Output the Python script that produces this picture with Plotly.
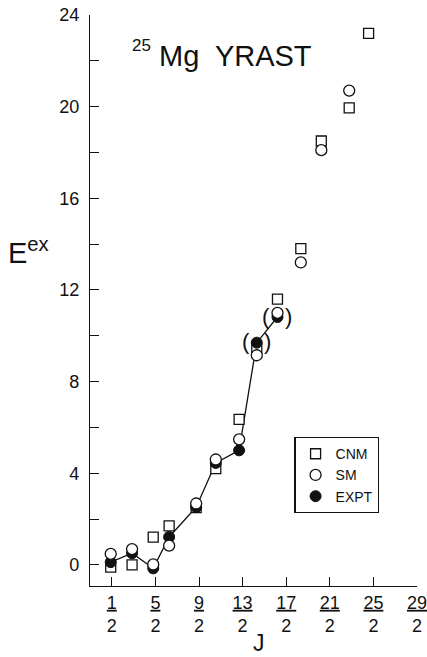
import plotly.graph_objects as go

# ---- data ----
J = [0.45, 1.43, 2.40, 3.13, 4.37, 5.27, 6.34, 7.15, 8.10, 9.17, 10.11, 11.39, 12.28]
CNM = [-0.10, 0.00, 1.21, 1.70, 2.50, 4.20, 6.35, 9.45, 11.60, 13.80, 18.50, 19.95, 23.20]
SM = [0.48, 0.69, 0.02, 0.84, 2.68, 4.60, 5.48, 9.15, 11.00, 13.20, 18.10, 20.70, None]
EXPT = [0.12, 0.51, -0.15, 1.22, 2.52, 4.45, 5.00, 9.70, 10.82]
EXPT_TENTATIVE = [False, False, False, False, False, False, False, True, True]

X_TICK_NUM = ["1", "5", "9", "13", "17", "21", "25", "29"]
X_TICK_VALS = [int(n) / 2 for n in X_TICK_NUM]
Y_TICK_VALS = list(range(0, 25, 2))
Y_TICK_TEXT = [str(v) if v % 4 == 0 else "" for v in Y_TICK_VALS]

FONT = "Liberation Sans, Arial, Helvetica, sans-serif"
INK = "#111111"

fig = go.Figure()

# connecting line through experimental points
fig.add_trace(go.Scatter(
    x=J[:len(EXPT)], y=EXPT, mode="lines",
    line=dict(color=INK, width=1.3), showlegend=False, hoverinfo="skip"))

fig.add_trace(go.Scatter(
    x=J, y=CNM, mode="markers", name="CNM", legendgroup="cnm", legendrank=1,
    marker=dict(symbol="square", size=10, color="white",
                line=dict(color=INK, width=1.3))))

fig.add_trace(go.Scatter(
    x=J[:len(EXPT)], y=EXPT, mode="markers", name="EXPT", legendgroup="expt",
    legendrank=3,
    marker=dict(symbol="circle", size=11, color=INK,
                line=dict(color=INK, width=1))))

fig.add_trace(go.Scatter(
    x=J, y=SM, mode="markers", name="SM", legendgroup="sm", legendrank=2,
    marker=dict(symbol="circle", size=11, color="white",
                line=dict(color=INK, width=1.3))))

# parentheses around tentative experimental levels
for xj, ye, tent in zip(J, EXPT, EXPT_TENTATIVE):
    if tent:
        for ch, sh in (("(", -11), (")", 11)):
            fig.add_annotation(x=xj, y=ye, xref="x", yref="y", text=ch,
                               showarrow=False, xshift=sh, yshift=1,
                               font=dict(family=FONT, size=22, color=INK))

# title
fig.add_annotation(x=0.122, y=0.946, xref="paper", yref="paper", text="25",
                   showarrow=False, xanchor="left", yanchor="middle",
                   font=dict(family=FONT, size=17, color=INK))
fig.add_annotation(x=0.205, y=0.929, xref="paper", yref="paper",
                   text="Mg  YRAST", showarrow=False, xanchor="left",
                   yanchor="middle", font=dict(family=FONT, size=29, color=INK))

# axis titles
fig.add_annotation(x=-0.257, y=0.586, xref="paper", yref="paper",
                   text="E<sup>ex</sup>", showarrow=False, xanchor="left",
                   yanchor="middle", font=dict(family=FONT, size=29, color=INK))
fig.add_annotation(x=0.517, y=-0.1, xref="paper", yref="paper", text="J",
                   showarrow=False, xanchor="center", yanchor="middle",
                   font=dict(family=FONT, size=23, color=INK))

fig.update_xaxes(
    range=[-0.5, 14.5], showline=True, linecolor=INK, linewidth=1.4,
    showgrid=False, zeroline=False, ticks="inside", ticklen=9, tickwidth=1.3,
    tickcolor=INK, tickvals=X_TICK_VALS,
    ticktext=[f"<u>{n}</u><br>2" for n in X_TICK_NUM],
    tickfont=dict(family=FONT, size=18, color=INK), ticklabelstandoff=0,
    ticklabeloverflow="allow", automargin=False)

fig.update_yaxes(
    range=[-0.92, 24], showline=True, linecolor=INK, linewidth=1.4,
    showgrid=False, zeroline=False, ticks="inside", ticklen=9, tickwidth=1.3,
    tickcolor=INK, tickvals=Y_TICK_VALS, ticktext=Y_TICK_TEXT,
    tickfont=dict(family=FONT, size=18, color=INK), ticklabelstandoff=6,
    ticklabeloverflow="allow", automargin=False)

fig.update_layout(
    width=427, height=657, autosize=False,
    margin=dict(l=90, r=10, t=15, b=71),
    paper_bgcolor="white", plot_bgcolor="white",
    font=dict(family=FONT, color=INK),
    legend=dict(x=0.625, y=0.261, xanchor="left", yanchor="top",
                bordercolor=INK, borderwidth=1.2, bgcolor="white",
                font=dict(family=FONT, size=14, color=INK),
                tracegroupgap=0, itemwidth=30),
)

fig.write_html("out.html")
